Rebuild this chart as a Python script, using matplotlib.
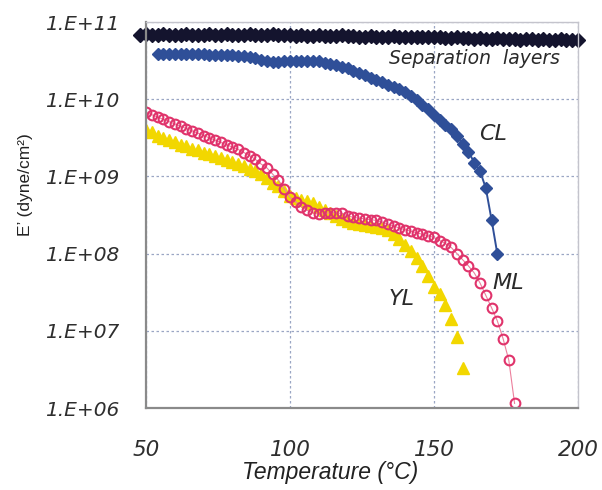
import numpy as np
import matplotlib
matplotlib.use("Agg")
import matplotlib.pyplot as plt
from matplotlib.ticker import FixedLocator, NullLocator

# storage modulus E' (log10 dyne/cm2) against temperature (degC)
sep_temp = list(range(48, 201, 2))
sep_log = [10.83, 10.84, 10.83, 10.83, 10.84, 10.83, 10.83, 10.83, 10.84, 10.83, 10.83, 10.83, 10.84,
           10.83, 10.83, 10.84, 10.83, 10.83, 10.83, 10.84, 10.83, 10.83, 10.83, 10.84, 10.83, 10.83,
           10.83, 10.82, 10.83, 10.82, 10.82, 10.83, 10.82, 10.82, 10.82, 10.83, 10.82, 10.82, 10.81,
           10.81, 10.82, 10.81, 10.81, 10.81, 10.82, 10.81, 10.81, 10.80, 10.81, 10.80, 10.80, 10.80,
           10.80, 10.79, 10.79, 10.80, 10.79, 10.79, 10.78, 10.79, 10.78, 10.78, 10.79, 10.78, 10.78,
           10.78, 10.77, 10.78, 10.78, 10.77, 10.78, 10.77, 10.77, 10.78, 10.77, 10.77, 10.77]

cl_temp = list(range(54, 173, 2))
cl_log = [10.58, 10.58, 10.58, 10.58, 10.58, 10.58, 10.58, 10.58, 10.58, 10.57, 10.57, 10.57, 10.57,
          10.57, 10.56, 10.56, 10.55, 10.53, 10.51, 10.49, 10.48, 10.48, 10.49, 10.50, 10.50, 10.50,
          10.50, 10.49, 10.49, 10.47, 10.46, 10.44, 10.42, 10.40, 10.37, 10.34, 10.31, 10.28, 10.25,
          10.22, 10.19, 10.16, 10.13, 10.09, 10.04, 9.99, 9.93, 9.87, 9.80, 9.73, 9.66, 9.62, 9.52,
          9.42, 9.32, 9.18, 9.07, 8.85, 8.44, 8.00]

ml_temp = list(range(48, 179, 2))
ml_log = [9.86, 9.83, 9.80, 9.77, 9.74, 9.71, 9.68, 9.65, 9.62, 9.59, 9.56, 9.53, 9.50, 9.47, 9.44,
          9.41, 9.38, 9.35, 9.31, 9.27, 9.22, 9.16, 9.11, 9.03, 8.95, 8.84, 8.73, 8.67, 8.61, 8.56,
          8.53, 8.51, 8.52, 8.53, 8.53, 8.52, 8.49, 8.47, 8.46, 8.45, 8.44, 8.43, 8.41, 8.38, 8.36,
          8.33, 8.31, 8.29, 8.27, 8.25, 8.23, 8.21, 8.17, 8.13, 8.08, 8.00, 7.92, 7.84, 7.75, 7.62,
          7.46, 7.30, 7.13, 6.90, 6.62, 6.06]

yl_temp = list(range(48, 161, 2))
yl_log = [9.63, 9.60, 9.57, 9.53, 9.50, 9.47, 9.44, 9.41, 9.39, 9.36, 9.34, 9.31, 9.29, 9.26, 9.24,
          9.21, 9.19, 9.16, 9.13, 9.10, 9.07, 9.03, 8.98, 8.92, 8.87, 8.81, 8.75, 8.72, 8.70, 8.68,
          8.65, 8.61, 8.57, 8.53, 8.49, 8.45, 8.42, 8.40, 8.38, 8.37, 8.36, 8.34, 8.33, 8.31, 8.26,
          8.19, 8.11, 8.03, 7.94, 7.84, 7.71, 7.57, 7.48, 7.33, 7.15, 6.92, 6.52]

y_ticks = [1e6, 1e7, 1e8, 1e9, 1e10, 1e11]
y_labels = ["1.E+06", "1.E+07", "1.E+08", "1.E+09", "1.E+10", "1.E+11"]
x_ticks = [50, 100, 150, 200]

fig = plt.figure(figsize=(6.02, 4.90), dpi=100)
ax = fig.add_axes([0.2425, 0.1673, 0.7175, 0.7877])

ax.plot(yl_temp, 10 ** np.array(yl_log), ls="none", marker="^", ms=8,
        color="#f2d700", mec="#f2d700")
ax.plot(ml_temp, 10 ** np.array(ml_log), ls="-", lw=0.8, color="#ec7f9c", marker="o", ms=7,
        mfc="none", mec="#e0336b", mew=1.5)
ax.plot(cl_temp, 10 ** np.array(cl_log), ls="-", lw=1.4, color="#2f4f98", marker="D", ms=6,
        mec="#2f4f98")
ax.plot(sep_temp, 10 ** np.array(sep_log), ls="-", lw=2.5, color="#14142e", marker="D", ms=7,
        mec="#14142e", clip_on=False)

ax.set_yscale("log")
ax.set_xlim(50, 200)
ax.set_ylim(1e6, 1e11)
ax.yaxis.set_major_locator(FixedLocator(y_ticks))
ax.yaxis.set_minor_locator(NullLocator())
ax.set_yticks(y_ticks, y_labels)
ax.set_xticks(x_ticks)

tick_font = dict(family="DejaVu Sans", style="italic", color="#2e2e2e")
for lab in ax.get_yticklabels():
    lab.set(fontsize=14.5, **tick_font)
for lab in ax.get_xticklabels():
    lab.set(fontsize=15.5, **tick_font)
ax.tick_params(axis="y", length=0, pad=19)
ax.tick_params(axis="x", length=0, pad=23)

ax.grid(True, which="major", color="#9aa6c4", ls=(0, (2, 2)), lw=0.9)
for side in ["left", "bottom"]:
    ax.spines[side].set_color("#8a8a8a")
    ax.spines[side].set_linewidth(1.6)
for side in ["right", "top"]:
    ax.spines[side].set_color("#c4c4cc")
    ax.spines[side].set_linewidth(1.0)

ax.set_xlabel("Temperature (°C)", family="Liberation Sans", style="italic", fontsize=16.5,
              color="#222222")
ax.xaxis.set_label_coords(0.426, -0.137)
ax.set_ylabel("E\u2019 (dyne/cm\u00b2)", family="Liberation Sans", fontsize=12.5, color="#222222")
ax.yaxis.set_label_coords(-0.262, 0.578)

label_font = dict(family="DejaVu Sans", style="italic", color="#2a2a2a", ha="center", va="center")
ax.text(474 / 602, 1 - 58 / 490, "Separation  layers", transform=fig.transFigure, fontsize=13.5,
        **label_font)
ax.text(493 / 602, 1 - 134 / 490, "CL", transform=fig.transFigure, fontsize=16, **label_font)
ax.text(508 / 602, 1 - 283 / 490, "ML", transform=fig.transFigure, fontsize=16, **label_font)
ax.text(402 / 602, 1 - 299 / 490, "YL", transform=fig.transFigure, fontsize=16, **label_font)

fig.savefig("out.png", dpi=100)
